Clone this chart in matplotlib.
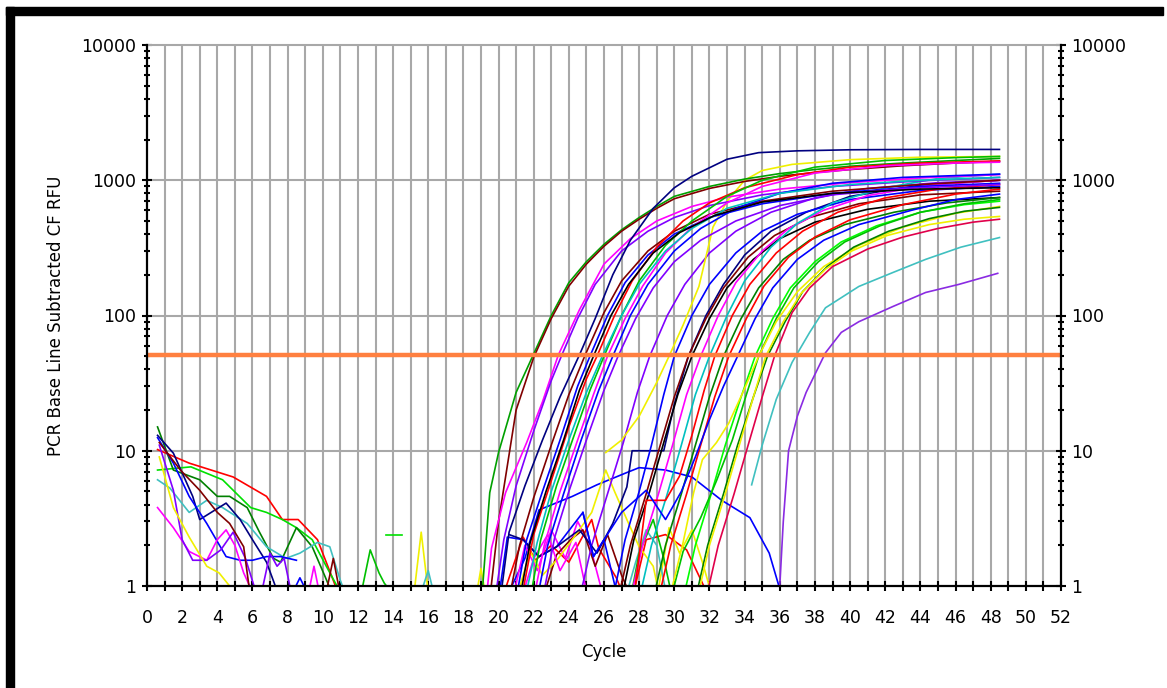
import matplotlib
matplotlib.use('Agg')
import matplotlib.pyplot as plt
from matplotlib.patches import Rectangle
from matplotlib.ticker import FixedLocator, LogLocator, NullFormatter, FuncFormatter

# ---- data (cycle, RFU) ----
threshold = 51

# early amplifying wells (Ct ~22-27)
early_colors = ['#00a000', '#800000', '#ff00ff', '#8000ff', '#000080', '#800000', '#0000ff',
                '#ff0000', '#00c000', '#ff00ff', '#0000ff', '#8000ff', '#00c0c0', '#000000']
early_cycles = [
    [18.8, 19.1, 19.5, 20, 21, 22, 23, 24, 25, 26, 27, 28, 29, 30, 32, 34, 36, 38, 40, 43, 46, 48.5],
    [19.5, 20, 21, 22, 23, 24, 25, 26, 27, 28, 29, 30, 32, 34, 36, 38, 40, 43, 46, 48.5],
    [19.3, 19.6, 20.4, 21.6, 22.5, 23.4, 24.6, 26, 27.5, 29, 31, 33, 36, 40, 44, 48.5],
    [19.8, 20.3, 21, 22, 23, 23.6, 24.5, 25.5, 27, 28.5, 30, 32, 35, 39, 44, 48.5],
    [20.2, 20.6, 21.5, 22.5, 23.5, 24.6, 25.5, 26.5, 27.5, 28.8, 30, 31, 33, 34.8, 37, 40, 44, 48.5],
    [20.6, 21.2, 22, 23, 24, 24.9, 26, 27, 28.5, 30, 32, 35, 39, 44, 48.5],
    [21.0, 21.6, 22.5, 23.5, 24.5, 25.2, 26.2, 27.2, 28.5, 30, 32, 35, 39, 44, 48.5],
    [21.3, 22, 23, 24, 25, 25.6, 26.6, 27.6, 29, 30.5, 32, 34, 37, 40, 44, 48.5],
    [21.8, 22.4, 23.3, 24.3, 25.2, 26, 27, 28, 29.5, 31, 33, 35, 38, 42, 46, 48.5],
    [22.0, 22.6, 23.5, 24.5, 25.4, 26.2, 27.2, 28.2, 29.5, 31, 33, 35, 38, 42, 46, 48.5],
    [22.2, 22.8, 23.7, 24.7, 25.7, 26.5, 27.5, 28.5, 30, 31.5, 33.5, 36, 39, 43, 48.5],
    [22.5, 23.2, 24, 25, 26, 26.8, 27.8, 28.8, 30, 31.5, 33.5, 36, 39, 43, 48.5],
    [21.5, 22.2, 23, 24, 25, 25.9, 27, 28, 29.5, 31, 33, 36, 40, 44, 48.5],
    [21.2, 21.8, 22.7, 23.7, 24.6, 25.4, 26.4, 27.4, 28.8, 30.3, 32.3, 35, 39, 44, 48.5],
]
early_values = [
    [0.7, 1.0, 4.9, 9.7, 27, 52, 100, 175, 250, 336, 430, 530, 640, 760, 900, 1020, 1120, 1200, 1270, 1340, 1400, 1450],
    [0.8, 3, 20, 49, 95, 165, 240, 325, 420, 515, 620, 730, 870, 980, 1070, 1140, 1200, 1280, 1340, 1380],
    [0.8, 1.9, 4.9, 11.5, 23, 51, 110, 240, 370, 500, 640, 750, 860, 960, 1040, 1100],
    [0.8, 2.2, 5.5, 14, 33, 51, 95, 170, 300, 420, 530, 650, 780, 900, 990, 1050],
    [1.0, 2.5, 5.5, 12, 25, 51, 95, 200, 360, 620, 880, 1070, 1430, 1600, 1650, 1680, 1690, 1690],
    [0.8, 2.0, 4.5, 11, 26, 50, 105, 180, 300, 420, 560, 700, 830, 930, 1000],
    [0.8, 2.2, 5.0, 12, 30, 50, 100, 175, 280, 400, 530, 670, 800, 900, 950],
    [0.8, 2.4, 6, 15, 34, 50, 100, 180, 320, 500, 680, 880, 1100, 1250, 1340, 1390],
    [0.8, 2.2, 5.5, 13, 28, 50, 100, 180, 330, 500, 760, 1000, 1250, 1400, 1470, 1500],
    [0.8, 2.0, 5.0, 12, 26, 50, 95, 165, 290, 450, 680, 900, 1130, 1280, 1340, 1360],
    [0.8, 2.0, 4.8, 12, 28, 50, 100, 170, 300, 440, 620, 800, 950, 1050, 1110],
    [0.8, 2.3, 5.0, 12, 28, 50, 95, 160, 250, 360, 500, 650, 780, 870, 930],
    [0.8, 2.1, 5, 12, 27, 50, 100, 170, 300, 440, 620, 800, 930, 1000, 1050],
    [0.8, 2.1, 5, 12, 28, 50, 100, 170, 290, 410, 550, 690, 800, 860, 880],
]

# late amplifying wells (Ct ~28-39)
late_colors = ['#8000ff', '#000080', '#f0f000', '#0000ff', '#800000', '#000000', '#ff00ff',
               '#00c0c0', '#ff0000', '#008000', '#ff0000', '#0000ff', '#00ff00', '#00c000',
               '#f0f000', '#008000', '#f0f000', '#e0004a', '#40c0c0', '#8a2be2']
late_cycles = [
    [24.6, 25.3, 26.2, 27.1, 27.9, 28.6, 29.6, 30.6, 32, 33.5, 35.5, 38, 41, 45, 48.5],
    [20.6, 21.4, 22.3, 23.3, 24.6, 25.6, 26.5, 27.3, 27.6, 29.4, 30.0, 30.8, 31.8, 32.8, 34, 35.5, 37.5, 40, 44, 48.5],
    [26.1, 27, 28, 29, 29.7, 30.5, 31.4, 32.2, 33, 34, 35, 36.7, 40, 44, 48.5],
    [26.5, 27.2, 28, 28.7, 29.4, 30.0, 31, 32, 33.5, 35, 37, 40, 44, 48.5],
    [26.8, 27.5, 28.4, 29.2, 30.0, 30.8, 31.8, 32.8, 34.2, 35.7, 37.7, 40.5, 44, 48.5],
    [27, 27.7, 28.6, 29.4, 30.2, 31.0, 32, 33, 34.5, 36, 38, 41, 44.5, 48.5],
    [27.5, 28.2, 29.1, 29.9, 30.7, 31.5, 32.5, 33.5, 35, 36.5, 38.5, 41, 44.5, 48.5],
    [28, 28.7, 29.6, 30.4, 31.2, 32.0, 33, 34, 35.5, 37, 39, 42, 45, 48.5],
    [27.8, 28.4, 29.5, 30.3, 31, 31.7, 32.3, 33.3, 34.3, 35.8, 37.3, 39.3, 42, 45, 48.5],
    [28.8, 29.5, 30.4, 31.2, 32.0, 32.8, 33.8, 34.8, 36.2, 37.7, 39.7, 42.5, 45.5, 48.5],
    [29.1, 29.8, 30.7, 31.5, 32.3, 33.1, 34.1, 35.1, 36.5, 38, 40, 43, 46, 48.5],
    [24.8, 25.4, 26, 27, 28.4, 29.5, 30.4, 31.2, 32, 32.8, 33.6, 34.6, 35.6, 37, 38.5, 40.5, 43.5, 46, 48.5],
    [30.5, 31.2, 32.1, 32.9, 33.8, 34.6, 35.6, 36.6, 38, 39.5, 41.5, 44, 46.5, 48.5],
    [29.8, 30.5, 31.5, 32.4, 33.3, 34.1, 34.8, 35.8, 36.8, 38.2, 39.7, 41.7, 44, 46.5, 48.5],
    [29.9, 30.5, 31.1, 31.6, 32.4, 33.1, 33.9, 34.8, 35.8, 37, 38.5, 40.5, 43, 46, 48.5],
    [31.2, 31.9, 32.8, 33.6, 34.5, 35.3, 36.3, 37.3, 38.7, 40.2, 42.2, 44.5, 46.5, 48.5],
    [31.3, 32, 32.9, 33.7, 34.5, 35.2, 36.2, 37.2, 38.6, 40.1, 42.1, 44.5, 46.5, 48.5],
    [31.8, 32.5, 33.4, 34.2, 35, 35.7, 36.7, 37.7, 39, 41, 43, 45, 47, 48.5],
    [34.4, 35.0, 35.8, 36.7, 37.7, 38.6, 40.5, 42.4, 44.3, 46.3, 48.5],
    [35.9, 36.0, 36.2, 36.5, 37.0, 37.5, 38.6, 39.5, 40.5, 42.4, 44.3, 46.2, 48.4],
]
late_values = [
    [0.8, 2.0, 4.8, 11.5, 27, 50, 100, 170, 290, 420, 580, 740, 870, 960, 1000],
    [2.4, 2.2, 1.65, 1.95, 2.6, 1.75, 2.9, 5.4, 10, 10, 22, 50, 100, 170, 280, 420, 580, 760, 920, 1000],
    [9.7, 12, 18, 32, 50, 85, 164, 450, 700, 1000, 1180, 1310, 1420, 1480, 1500],
    [0.8, 2.2, 5.0, 11, 26, 50, 100, 170, 290, 420, 560, 720, 840, 900],
    [0.8, 2.0, 4.8, 11, 25, 50, 95, 160, 270, 390, 530, 670, 780, 830],
    [0.8, 2.2, 5, 11.5, 26, 50, 95, 160, 260, 370, 490, 610, 700, 745],
    [0.8, 2.0, 4.8, 11, 26, 50, 100, 175, 300, 440, 600, 770, 920, 1000],
    [0.8, 2.0, 4.8, 11, 26, 50, 100, 180, 320, 480, 680, 880, 1030, 1110],
    [1.05, 4.3, 4.3, 6.5, 13, 28, 50, 100, 170, 290, 420, 580, 740, 860, 930],
    [0.8, 2.0, 4.8, 11, 25, 50, 95, 160, 260, 360, 470, 580, 680, 745],
    [0.8, 2.0, 4.8, 11, 25, 50, 95, 165, 270, 380, 510, 660, 790, 860],
    [3.5, 1.65, 2.2, 3.5, 5.1, 3.1, 5.0, 9, 17, 30, 50, 95, 160, 260, 360, 470, 600, 720, 790],
    [0.8, 2.0, 4.8, 11, 25, 50, 95, 160, 250, 350, 460, 580, 660, 700],
    [0.8, 1.8, 3.2, 6, 12, 26, 50, 95, 160, 250, 350, 460, 580, 670, 720],
    [1.0, 2.1, 4.9, 8.6, 11.5, 16, 27, 50, 90, 150, 230, 330, 450, 570, 640],
    [0.8, 2.0, 4.8, 11, 25, 50, 90, 150, 230, 320, 420, 520, 590, 630],
    [0.8, 2.0, 4.8, 11, 25, 50, 90, 145, 220, 300, 390, 470, 515, 540],
    [0.8, 2.0, 4.8, 11, 25, 50, 105, 160, 230, 310, 380, 440, 490, 515],
    [5.6, 11, 24, 45, 75, 114, 164, 207, 260, 320, 377],
    [0.8, 1.0, 3.0, 10, 18, 27, 53, 75, 90, 116, 148, 170, 205],
]

# baseline noise, first cycles
start_colors = ['#ff0000', '#00e000', '#008000', '#40c0c0', '#000080', '#0000ff', '#ff00ff',
                '#8000ff', '#f0f000', '#800000', '#00e000', '#00c000', '#f0f000', '#40c0c0',
                '#ff00ff', '#800000', '#0000ff', '#8000ff']
start_cycles = [
    [0.6, 2.4, 4.9, 6.8, 7.7, 8.6, 9.7, 10.6, 11.0],
    [0.6, 2.5, 4.3, 5.9, 6.8, 7.7, 8.5, 9.4, 10.2, 11.0],
    [0.6, 1.5, 3.0, 4.0, 4.7, 5.7, 6.4, 7.2, 7.6, 8.5, 9.4, 10.1, 10.5],
    [0.6, 1.3, 2.4, 3.4, 4.3, 5.7, 6.8, 7.9, 8.7, 9.7, 10.4, 11.0, 11.4],
    [0.6, 1.5, 2.6, 3.0, 4.5, 5.3, 6.0, 6.8, 7.3, 7.6],
    [0.6, 1.5, 2.4, 3.4, 4.5, 5.3, 6.0, 6.8, 7.6, 8.5],
    [0.6, 1.5, 2.4, 3.4, 4.0, 4.5, 5.0, 5.5, 6.0],
    [0.7, 1.5, 2.0, 2.6, 3.4, 4.2, 4.9, 5.6, 6.2],
    [0.7, 1.5, 2.4, 3.4, 4.1, 4.7, 5.0],
    [0.7, 1.9, 3.0, 4.0, 4.7, 5.5, 5.8, 6.1],
    [13.6, 14.5],
    [12.2, 12.7, 13.2, 13.5, 13.9],
    [15.2, 15.6, 16.0],
    [15.6, 16.0, 16.3],
    [9.2, 9.5, 9.8],
    [10.2, 10.6, 10.9],
    [8.3, 8.7, 9.1],
    [6.6, 7.0, 7.4, 7.8, 8.2],
]
start_values = [
    [10.2, 8.1, 6.4, 4.6, 3.1, 3.1, 2.2, 1.1, 0.8],
    [7.2, 7.6, 6.1, 3.8, 3.5, 3.1, 2.7, 2.2, 1.4, 0.9],
    [15, 7.2, 6.1, 4.6, 4.6, 3.8, 2.5, 1.6, 1.5, 2.7, 1.95, 1.2, 0.9],
    [6.1, 5.3, 3.5, 4.3, 3.8, 2.9, 1.95, 1.6, 1.75, 2.1, 1.95, 1.1, 0.8],
    [13, 9.6, 4.6, 3.1, 4.1, 3.1, 2.2, 1.5, 1.0, 0.8],
    [12.5, 8.1, 4.6, 2.9, 1.65, 1.55, 1.55, 1.65, 1.65, 1.55],
    [3.8, 2.7, 1.8, 1.55, 2.2, 2.6, 2.0, 1.25, 0.9],
    [11, 5.1, 2.2, 1.55, 1.55, 1.85, 2.5, 1.6, 0.9],
    [9, 3.8, 2.3, 1.4, 1.25, 1.0, 0.8],
    [11.5, 7.2, 5.1, 3.5, 2.9, 1.95, 1.0, 0.8],
    [2.4, 2.4],
    [0.9, 1.85, 1.25, 1.05, 0.9],
    [0.9, 2.5, 0.9],
    [0.9, 1.3, 0.9],
    [0.9, 1.4, 0.9],
    [0.9, 1.6, 1.0],
    [0.9, 1.15, 0.9],
    [1.0, 1.75, 1.4, 1.6, 0.9],
]

# baseline noise around the rise (cycles 19-36)
mid_colors = ['#ff0000', '#ff0000', '#0000ff', '#ff00ff', '#800000', '#f0f000', '#f0f000',
              '#40c0c0', '#00c000', '#f0f000', '#ff00ff', '#0000ff']
mid_cycles = [
    [20.2, 20.6, 21.4, 22.1, 23, 24, 25.3, 25.7, 26.7, 27.2],
    [27.6, 28.4, 29.5, 30.7, 31.6, 32],
    [20.4, 21.5, 22.3, 24.2, 25.6, 27.3, 28, 29.5, 31, 32.7, 34.3, 35.4, 36],
    [20.8, 21.5, 22.2, 23, 23.8, 24.5, 25.2, 26],
    [22.5, 23.3, 24.1, 24.8, 25.5, 26.2, 27, 27.6],
    [21.0, 21.8, 22.5, 23.4, 24.3, 25.3, 26.1, 26.6, 27.3, 28.0, 28.8, 29.2],
    [29.0, 29.7, 30.3, 31.0, 31.6, 32.2],
    [27.2, 27.8, 28.4, 29, 29.6],
    [27.5, 28.0, 28.8, 29.4, 29.9],
    [18.7, 19.0, 19.3],
    [21.3, 22.0, 22.8, 23.5, 24.4, 25.1],
    [20.0, 20.5, 21.4, 22.3, 23.3, 24.8, 25.4, 26.0, 26.8],
]
mid_values = [
    [0.8, 1.15, 2.3, 1.55, 2.0, 1.5, 3.1, 1.9, 1.15, 0.8],
    [0.8, 2.2, 2.4, 1.85, 1.05, 0.8],
    [0.8, 1.6, 3.65, 4.6, 5.6, 6.9, 7.5, 7.2, 6.4, 4.3, 3.2, 1.75, 0.95],
    [0.8, 2.0, 1.3, 2.6, 1.6, 3.0, 2.0, 0.8],
    [0.8, 1.7, 2.2, 2.6, 1.4, 2.4, 1.2, 0.8],
    [0.8, 1.8, 1.2, 1.6, 2.3, 3.5, 7.2, 5.0, 3.1, 1.95, 1.4, 0.8],
    [0.8, 2.7, 1.75, 2.6, 1.5, 0.8],
    [0.8, 1.5, 2.6, 2.0, 0.8],
    [0.8, 1.75, 3.1, 1.6, 0.8],
    [0.8, 1.35, 0.8],
    [0.8, 1.6, 2.4, 1.3, 2.1, 0.8],
    [0.8, 2.3, 2.2, 1.65, 1.95, 3.5, 1.65, 2.2, 0.8],
]

cycle_ticks = list(range(0, 53))

# ---- figure ----
fig = plt.figure(figsize=(11.67, 6.88), dpi=100)
ax = fig.add_axes([147 / 1167, 1 - 586 / 688, (1061 - 147) / 1167, (586 - 45) / 688])

for colors, cyc, vals in [(start_colors, start_cycles, start_values),
                          (mid_colors, mid_cycles, mid_values),
                          (late_colors, late_cycles, late_values),
                          (early_colors, early_cycles, early_values)]:
    for col, c, v in zip(colors, cyc, vals):
        ax.plot(c, v, color=col, lw=1.2, zorder=3)

ax.axhline(threshold, color='#ff8040', lw=3.2, zorder=5)

ax.set_yscale('log')
ax.set_xlim(0, 52)
ax.set_ylim(1, 10000)

# grid: every cycle vertically, decades horizontally
for c in cycle_ticks[1:-1]:
    ax.axvline(c, color='#a8a8a8', lw=1.5, zorder=1)
for d in [10, 100, 1000]:
    ax.axhline(d, color='#a8a8a8', lw=1.5, zorder=1)

ax.spines['top'].set_color('#a8a8a8')
ax.spines['top'].set_linewidth(1.5)
for s in ['left', 'right', 'bottom']:
    ax.spines[s].set_color('black')
    ax.spines[s].set_linewidth(1.6)
    ax.spines[s].set_zorder(6)

ax.xaxis.set_major_locator(FixedLocator(cycle_ticks))
ax.xaxis.set_major_formatter(FuncFormatter(lambda x, p: str(int(x)) if int(x) % 2 == 0 else ''))
ax.yaxis.set_major_locator(LogLocator(base=10))
ax.yaxis.set_minor_locator(LogLocator(base=10, subs=range(2, 10)))
ax.yaxis.set_major_formatter(FuncFormatter(lambda y, p: '%d' % round(y)))
ax.yaxis.set_minor_formatter(NullFormatter())

ax.tick_params(axis='x', which='major', direction='inout', length=7, width=1.5, pad=13,
               labelsize=12.5, color='black')
ax.tick_params(axis='y', which='major', direction='inout', length=7, width=1.5, pad=4,
               labelsize=12.5, left=True, right=True, labelleft=True, labelright=True)
ax.tick_params(axis='y', which='minor', direction='inout', length=5, width=1.5,
               left=True, right=True)

ax.set_xlabel('Cycle', fontsize=12)
ax.set_ylabel('PCR Base Line Subtracted CF RFU', fontsize=12)
ax.xaxis.set_label_coords(0.5, -0.105)
ax.yaxis.set_label_coords(-0.09, 0.5)

# black frame on top and left of the screenshot
fig.add_artist(Rectangle((6 / 1167, 1 - 15 / 688), (1163 - 6) / 1167, 8 / 688,
                         transform=fig.transFigure, color='black'))
fig.add_artist(Rectangle((6 / 1167, 0), 8 / 1167, 1 - 7 / 688,
                         transform=fig.transFigure, color='black'))

fig.savefig('out.png', dpi=100)
